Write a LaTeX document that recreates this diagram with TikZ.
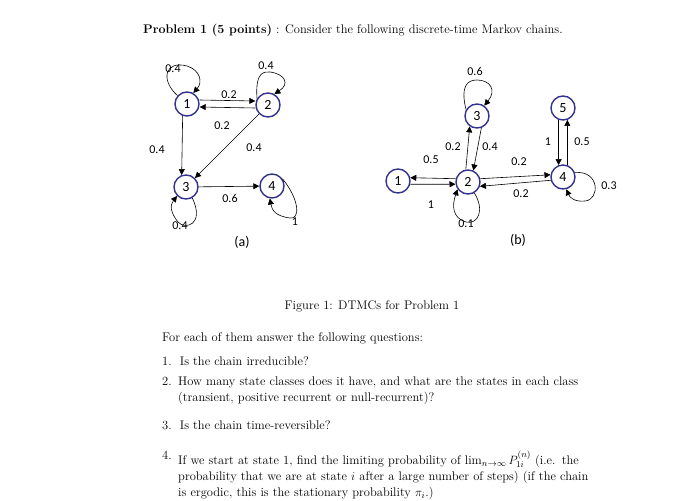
\documentclass[tikz,border=0pt]{standalone}
\usepackage{fontspec}
\usetikzlibrary{arrows.meta}
\newfontfamily\lab{Carlito}
\begin{document}
\begin{tikzpicture}[x=1pt,y=-1pt,
  st/.style={circle,draw=blue!45!black!80,line width=1.4pt,minimum size=24pt,inner sep=0pt,font=\lab\fontsize{14}{14}\selectfont},
  ed/.style={-{Triangle[length=6pt,width=6pt]},line width=0.6pt},
  lb/.style={font=\lab\fontsize{12}{12}\selectfont,inner sep=0pt},
  tx/.style={font=\fontsize{12.5}{16}\selectfont,inner sep=0pt,anchor=west}]
\useasboundingbox[fill=white] (0,0) rectangle (679,500);
% (a)
\node[st] (a1) at (187,104) {1};
\node[st] (a2) at (268,105) {2};
\node[st] (a3) at (186,187) {3};
\node[st] (a4) at (272,186) {4};
\draw[ed] (a1) .. controls (160,80) and (165,60) .. (187,66) .. controls (200,70) and (203,82) .. (a1.60);
\draw[ed] (a2.150) .. controls (255,70) and (265,72) .. (270,72) .. controls (285,74) and (290,84) .. (a2.60);
\draw[ed] (a3.300) .. controls (205,225) and (185,230) .. (178,222) .. controls (170,212) and (170,205) .. (a3.225);
\draw[ed] (a4.35) .. controls (300,200) and (300,220) .. (290,218) .. controls (275,216) and (272,210) .. (a4.260);
\draw[ed] ([yshift=-3]a2.west) -- ([yshift=-3]a1.east);
\draw[ed] ([yshift=4]a1.east) -- ([yshift=4]a2.west);
\draw[ed] (a1.250) -- (a3.110);
\draw[ed] (a2) -- (a3);
\draw[ed] (a3) -- (a4);
\node[lb] at (173,69) {0.4};
\node[lb] at (266,66) {0.4};
\node[lb] at (229,95) {0.2};
\node[lb] at (222,126) {0.2};
\node[lb] at (157,150) {0.4};
\node[lb] at (254,148) {0.4};
\node[lb] at (230,198) {0.6};
\node[lb] at (180,226) {0.4};
\node[lb] at (295,222) {1};
\node[font=\lab\fontsize{14}{14}\selectfont] at (242,242) {(a)};
% (b)
\node[st] (b1) at (398,181) {1};
\node[st] (b2) at (468,182) {2};
\node[st] (b3) at (477,116) {3};
\node[st] (b4) at (563,177) {4};
\node[st] (b5) at (563,108) {5};
\draw[ed] (b3.150) .. controls (460,85) and (468,80) .. (477,80) .. controls (490,80) and (497,90) .. (b3.55);
\draw[ed] (b2.300) .. controls (485,210) and (478,225) .. (466,222) .. controls (452,218) and (452,205) .. (b2.215);
\draw[ed] (b4.20) .. controls (600,170) and (600,200) .. (585,201) .. controls (575,202) and (570,198) .. (b4.285);
\draw[ed] (b2.100) -- (b3.235);
\draw[ed] (b3.290) -- (b2.65);
\draw[ed] (b2.165) -- (b1.15);
\draw[ed] (b1.345) -- (b2.190);
\draw[ed] (b2.15) -- (b4.170);
\draw[ed] (b4.195) -- (b2.340);
\draw[ed] (b5.250) -- (b4.110);
\draw[ed] (b4.70) -- (b5.290);
\node[lb] at (475,71) {0.6};
\node[lb] at (453,147) {0.2};
\node[lb] at (490,147) {0.4};
\node[lb] at (431,160) {0.5};
\node[lb] at (519,162) {0.2};
\node[lb] at (548,142) {1};
\node[lb] at (582,142) {0.5};
\node[lb] at (521,194) {0.2};
\node[lb] at (609,186) {0.3};
\node[lb] at (431,205) {1};
\node[lb] at (466,224) {0.1};
\node[font=\lab\fontsize{14}{14}\selectfont] at (518,240) {(b)};
% text
\node[tx] (t0) at (143,30) {\textbf{Problem 1 (5 points)} : Consider the following discrete-time Markov chains.};
\node[tx,anchor=center] (cap) at (372,306) {Figure 1: DTMCs for Problem 1};
\node[tx] (t1) at (162,338) {For each of them answer the following questions:};
\node[tx] (n1) at (162,361) {1.\ \ Is the chain irreducible?};
\node[tx,anchor=north west] (n2) at (162,377) {2.};
\node[tx,anchor=north west,text width=430pt] (n2t) at (178,377) {How many state classes does it have, and what are the states in each class (transient, positive recurrent or null-recurrent)?};
\node[tx] (n3) at (162,425) {3.\ \ Is the chain time-reversible?};
\node[tx,anchor=north west] (n4) at (162,451) {4.};
\node[tx,anchor=north west,text width=430pt] (n4t) at (178,451) {If we start at state 1, find the limiting probability of $\lim_{n\to\infty}P_{1i}^{(n)}$ (i.e. the probability that we are at state $i$ after a large number of steps) (if the chain is ergodic, this is the stationary probability $\pi_i$.)};
\end{tikzpicture}
\end{document}
